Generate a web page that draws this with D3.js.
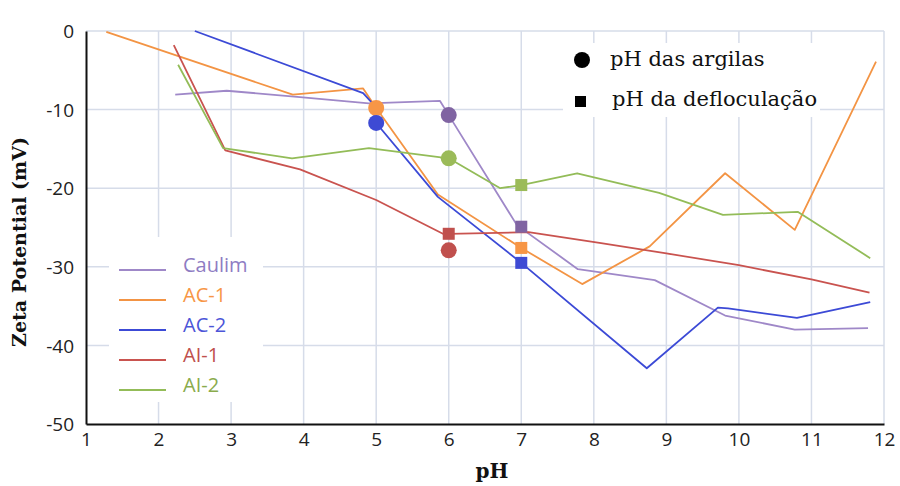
<!DOCTYPE html>
<html>
<head>
<meta charset="utf-8">
<script src="https://cdn.jsdelivr.net/npm/d3@7"></script>
<style>
  body { margin: 0; background: #fff; }
  svg { display: block; }
</style>
</head>
<body>
<div id="chart"></div>
<script>
// series (pH, zeta potential mV)
const caulimPH   = [2.23, 2.94, 3.95, 4.9, 5.88, 6.0, 6.94, 7.78, 8.84, 9.81, 10.77, 11.78];
const caulimZeta = [-8.1, -7.6, -8.4, -9.2, -8.9, -10.7, -24.7, -30.3, -31.7, -36.2, -38.0, -37.8];

const ac1PH   = [1.28, 3.85, 4.82, 5.0, 5.85, 7.0, 7.84, 8.77, 9.81, 10.77, 11.89];
const ac1Zeta = [-0.1, -8.1, -7.3, -9.8, -20.8, -27.6, -32.2, -27.4, -18.1, -25.3, -3.9];

const ac2PH   = [2.5, 4.82, 4.94, 5.0, 5.85, 7.0, 8.73, 9.71, 9.85, 10.8, 11.81];
const ac2Zeta = [0, -7.9, -9.1, -11.7, -21.1, -29.5, -42.9, -35.2, -35.3, -36.5, -34.5];

const ai1PH   = [2.21, 2.92, 3.95, 5.0, 5.92, 6.0, 7.1, 8.1, 9.0, 10.0, 11.0, 11.8];
const ai1Zeta = [-1.8, -15.2, -17.6, -21.5, -25.8, -25.8, -25.6, -27.0, -28.3, -29.8, -31.6, -33.3];

const ai2PH   = [2.27, 2.89, 3.84, 4.9, 6.0, 6.71, 7.0, 7.77, 8.9, 9.78, 10.81, 11.81];
const ai2Zeta = [-4.3, -14.9, -16.2, -14.9, -16.2, -20.0, -19.6, -18.1, -20.6, -23.4, -23.0, -28.9];

// markers: pH of the clays (circles) and deflocculation pH (squares)
const seriesNames = ["Caulim", "AC-1", "AC-2", "AI-1", "AI-2"];
const clayPH    = [6, 5, 5, 6, 6];
const clayZeta  = [-10.7, -9.8, -11.7, -27.9, -16.2];
const deflocPH   = [7, 7, 7, 6, 7];
const deflocZeta = [-24.9, -27.6, -29.5, -25.8, -19.6];

const xTicks = [1, 2, 3, 4, 5, 6, 7, 8, 9, 10, 11, 12];
const yTicks = [0, -10, -20, -30, -40, -50];

const lineColors   = ["#9f88c8", "#f39444", "#3c4ad6", "#c9534f", "#93bc58"];
const markerColors = ["#8064a2", "#f79646", "#3e4ad4", "#c0504d", "#9bbb59"];
const textColors   = ["#8e7cc3", "#f79646", "#4c55d8", "#c0504d", "#8aab4c"];

const allPH = [caulimPH, ac1PH, ac2PH, ai1PH, ai2PH];
const allZeta = [caulimZeta, ac1Zeta, ac2Zeta, ai1Zeta, ai2Zeta];

const width = 900, height = 486;
const sansFont = "'Open Sans', 'Noto Sans', sans-serif";
const serifFont = "'DejaVu Serif', 'Liberation Serif', serif";

const svg = d3.select("#chart").append("svg")
    .attr("width", width)
    .attr("height", height);

const x = d3.scaleLinear().domain([1, 12]).range([86, 884]);
const y = d3.scaleLinear().domain([-50, 0]).range([424, 31]);

const gridColor = "#d6dce9";

// grid
svg.append("g").selectAll("line")
    .data(xTicks.slice(1))
    .enter().append("line")
    .attr("x1", d => x(d)).attr("x2", d => x(d))
    .attr("y1", y(0)).attr("y2", y(-50))
    .attr("stroke", gridColor).attr("stroke-width", 1.5);

svg.append("g").selectAll("line")
    .data(yTicks.slice(0, -1))
    .enter().append("line")
    .attr("x1", x(1)).attr("x2", x(12))
    .attr("y1", d => y(d)).attr("y2", d => y(d))
    .attr("stroke", gridColor).attr("stroke-width", 1.5);

// legend boxes blank out the grid
svg.append("rect").attr("x", 109).attr("y", 237).attr("width", 154).attr("height", 165).attr("fill", "#fff");
svg.append("rect").attr("x", 563).attr("y", 43).attr("width", 257).attr("height", 74).attr("fill", "#fff");

// axes (plain hyphen for negatives, like the original)
const xAxis = d3.axisBottom(x).tickValues(xTicks).tickSize(0).tickPadding(9).tickFormat(d => String(d));
const yAxis = d3.axisLeft(y).tickValues(yTicks).tickSize(0).tickPadding(12).tickFormat(d => String(d));

const gx = svg.append("g").attr("transform", "translate(0," + y(-50) + ")").call(xAxis);
const gy = svg.append("g").attr("transform", "translate(" + x(1) + ",0)").call(yAxis);

[gx, gy].forEach(g => {
    g.select(".domain").attr("stroke", "#111").attr("stroke-width", 2);
    g.selectAll("text")
        .attr("fill", "#222")
        .style("font-family", sansFont)
        .style("font-size", "19px");
});
gy.selectAll("text").attr("dy", "0.35em");

// lines
const line = d3.line().x(d => x(d[0])).y(d => y(d[1]));

allPH.forEach((ph, i) => {
    svg.append("path")
        .datum(ph.map((p, j) => [p, allZeta[i][j]]))
        .attr("d", line)
        .attr("fill", "none")
        .attr("stroke", lineColors[i])
        .attr("stroke-width", 1.8)
        .attr("stroke-linejoin", "round");
});

// markers
svg.append("g").selectAll("rect")
    .data(seriesNames)
    .enter().append("rect")
    .attr("x", (d, i) => x(deflocPH[i]) - 6)
    .attr("y", (d, i) => y(deflocZeta[i]) - 6)
    .attr("width", 12).attr("height", 12)
    .attr("fill", (d, i) => markerColors[i]);

svg.append("g").selectAll("circle")
    .data(seriesNames)
    .enter().append("circle")
    .attr("cx", (d, i) => x(clayPH[i]))
    .attr("cy", (d, i) => y(clayZeta[i]))
    .attr("r", 8)
    .attr("fill", (d, i) => markerColors[i]);

// series legend
const legend = svg.append("g").selectAll("g")
    .data(seriesNames)
    .enter().append("g")
    .attr("transform", (d, i) => "translate(0," + (270 + i * 30) + ")");

legend.append("line")
    .attr("x1", 119).attr("x2", 166)
    .attr("stroke", (d, i) => lineColors[i])
    .attr("stroke-width", 2);

legend.append("text")
    .attr("x", 183).attr("y", 2)
    .text(d => d)
    .attr("fill", (d, i) => textColors[i])
    .style("font-family", sansFont)
    .style("font-size", "20px");

// marker legend
svg.append("circle").attr("cx", 582).attr("cy", 60).attr("r", 8).attr("fill", "#000");
svg.append("rect").attr("x", 575).attr("y", 96).attr("width", 11).attr("height", 11).attr("fill", "#000");

svg.append("text").attr("x", 610).attr("y", 66)
    .text("pH das argilas")
    .style("font-family", serifFont).style("font-size", "21px").attr("fill", "#111");
svg.append("text").attr("x", 612).attr("y", 106)
    .text("pH da defloculação")
    .style("font-family", serifFont).style("font-size", "21px").attr("fill", "#111");

// axis titles
svg.append("text")
    .attr("transform", "translate(26,242) rotate(-90)")
    .attr("text-anchor", "middle")
    .text("Zeta Potential (mV)")
    .style("font-family", serifFont).style("font-size", "19px").style("font-weight", "bold")
    .attr("fill", "#111");

svg.append("text")
    .attr("x", 492).attr("y", 478)
    .attr("text-anchor", "middle")
    .text("pH")
    .style("font-family", serifFont).style("font-size", "20px").style("font-weight", "bold")
    .attr("fill", "#111");
</script>
</body>
</html>
